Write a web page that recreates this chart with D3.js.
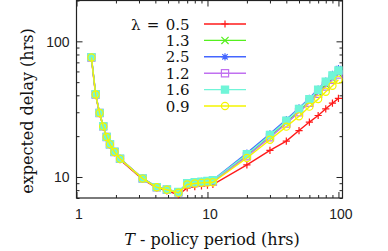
<!DOCTYPE html>
<html><head><meta charset="utf-8">
<script src="https://cdn.jsdelivr.net/npm/d3@7"></script>
<style>body{margin:0;background:#fff}svg{display:block}</style>
</head><body>
<svg id="c" width="388" height="251"></svg>
<script>
const xValues = [1.3,1.4,1.5,1.6,1.7,1.8,1.95,2.15,3.2,4.1,4.9,6,7,8,9,10,11,20,30,40,50,60,70,80,90,100];
const lambdaLabels = ["0.5","1.3","2.5","1.2","1.6","0.9"];
const red    = [75,40,29.3,23.3,19.5,17.2,15.1,13.4,9.6,8.3,7.9,7.4,8.3,8.5,8.6,8.7,8.8,12.3,15.7,18.4,22,25.4,28.4,31.8,35,38];
const green  = [76,40.6,29.6,23.6,19.7,17.4,15.3,13.6,9.73,8.4,8.05,7.7,8.9,9.1,9.2,9.25,9.3,14.4,19.9,25.2,30.5,36,42,48,53,58];
const blue   = [77,41,29.8,23.8,19.8,17.5,15.4,13.7,9.8,8.45,8.1,7.75,9.0,9.2,9.3,9.4,9.5,15,20.8,26.5,32.3,38,44.5,51,57,63];
const purple = [76,40.6,29.6,23.6,19.7,17.4,15.3,13.6,9.73,8.4,8.05,7.7,8.9,9.05,9.15,9.2,9.25,14.2,19.6,24.8,30,35.3,41,46.5,52,57];
const cyan   = [76.5,40.8,29.7,23.7,19.75,17.45,15.35,13.65,9.76,8.42,8.08,7.75,9.0,9.15,9.25,9.35,9.45,14.7,20.4,26,31.8,37.5,44,50.5,56,61];
const yellow = [76,40.6,29.6,23.6,19.7,17.4,15.3,13.6,9.73,8.4,8.05,7.65,8.8,8.95,9.05,9.1,9.15,13.8,18.8,23.5,28,33,37.5,42.5,47,52];
const xMajor = [1,10,100];
const xMinor = [2,3,4,5,6,7,8,9,20,30,40,50,60,70,80,90];
const yMajor = [10,100];
const yMinor = [7,8,9,20,30,40,50,60,70,80,90,200];

const seriesData = [red, green, blue, purple, cyan, yellow];
const colors = ["#ff1a1a","#55f01e","#4466ff","#c070f0","#70f5d8","#f5f500"];
const markers = ["plus","cross","star","square","fsquare","circle"];

const svg = d3.select("#c");
const L=76.5, R=342.5, T=0.5, B=198;
const x = d3.scaleLog().domain([1,107.4]).range([L,R]);
const y = d3.scaleLog().domain([7,200]).range([B,T]);

function markerPath(type, s){
  if(type==="plus") return `M${-s},0H${s}M0,${-s}V${s}`;
  if(type==="cross") return `M${-s},${-s}L${s},${s}M${-s},${s}L${s},${-s}`;
  if(type==="star") return `M${-s},0H${s}M0,${-s}V${s}M${-s*0.75},${-s*0.75}L${s*0.75},${s*0.75}M${-s*0.75},${s*0.75}L${s*0.75},${-s*0.75}`;
  if(type==="square"||type==="fsquare") return `M${-s},${-s}H${s}V${s}H${-s}Z`;
  return d3.arc()({innerRadius:0,outerRadius:s,startAngle:0,endAngle:2*Math.PI});
}
function drawMarker(g, type, color, cx, cy){
  const s = 3.6;
  g.append("path").attr("d", markerPath(type,s)).attr("transform",`translate(${cx},${cy})`)
    .attr("fill", type==="fsquare"?color:"none").attr("stroke",color).attr("stroke-width",1.2);
}

function tickAxis(axisFn, scale, vals, size, pos, labels){
  const a = axisFn(scale).tickValues(vals).tickSize(size).tickFormat(labels? d3.format("d"):"");
  const g = svg.append("g").attr("transform", pos).call(a);
  g.select(".domain").remove();
  g.selectAll(".tick line").attr("stroke","#222").attr("stroke-width",1);
  g.selectAll("text").attr("font-family","'Liberation Sans', Arial, sans-serif").attr("font-size",14).attr("fill","#222");
  return g;
}
const gb = tickAxis(d3.axisBottom, x, xMajor, -6, `translate(0,${B})`, true);
gb.selectAll("text").attr("y",11).attr("dx",2);
tickAxis(d3.axisBottom, x, xMinor, -3, `translate(0,${B})`, false);
tickAxis(d3.axisTop, x, xMajor, -6, `translate(0,${T})`, false);
tickAxis(d3.axisTop, x, xMinor, -3, `translate(0,${T})`, false);
const gl = tickAxis(d3.axisLeft, y, yMajor, -6, `translate(${L},0)`, true);
gl.selectAll("text").attr("x",-7).attr("dy","0.35em");
tickAxis(d3.axisLeft, y, yMinor, -3, `translate(${L},0)`, false);
tickAxis(d3.axisRight, y, yMajor, -6, `translate(${R},0)`, false);
tickAxis(d3.axisRight, y, yMinor, -3, `translate(${R},0)`, false);

svg.append("rect").attr("x",L).attr("y",T).attr("width",R-L).attr("height",B-T)
  .attr("fill","none").attr("stroke","#222").attr("stroke-width",1.2);

const plot = svg.append("g");
const line = d3.line().x((d,i)=>x(xValues[i])).y(d=>y(d));
seriesData.forEach((vals,k)=>{
  const g = plot.append("g");
  g.append("path").datum(vals).attr("d",line).attr("fill","none").attr("stroke",colors[k]).attr("stroke-width",1.4);
  vals.forEach((v,i)=>drawMarker(g, markers[k], colors[k], x(xValues[i]), y(v)));
});

const lg = svg.append("g");
lambdaLabels.forEach((lab,k)=>{
  const ly = 24 + k*16.4;
  lg.append("text").attr("x",189.5).attr("y",ly+5.5).attr("text-anchor","end")
    .attr("font-family","'DejaVu Serif', serif").attr("font-size",15).attr("fill","#111")
    .attr("word-spacing", k===0 ? 1.5 : 0)
    .text(k===0? "λ = "+lab : lab);
  lg.append("line").attr("x1",204).attr("x2",246).attr("y1",ly).attr("y2",ly)
    .attr("stroke",colors[k]).attr("stroke-width",1.4);
  drawMarker(lg, markers[k], colors[k], 225, ly);
});

const xt = svg.append("text").attr("x",212).attr("y",245).attr("text-anchor","middle")
  .attr("font-family","'DejaVu Serif', serif").attr("font-size",16).attr("fill","#111");
xt.append("tspan").attr("font-style","italic").text("T");
xt.append("tspan").text(" - policy period (hrs)");
svg.append("text").attr("transform","translate(33,111) rotate(-90)").attr("text-anchor","middle")
  .attr("font-family","'DejaVu Serif', serif").attr("font-size",16).attr("fill","#111")
  .text("expected delay (hrs)");
</script>
</body></html>
